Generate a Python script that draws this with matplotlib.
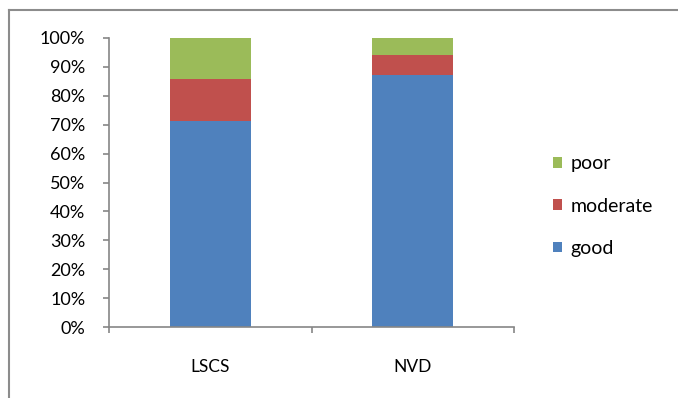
import matplotlib
matplotlib.use("Agg")
import matplotlib.pyplot as plt
from matplotlib.patches import Patch
from matplotlib.lines import Line2D
from matplotlib.ticker import PercentFormatter, FixedLocator

categories = ["LSCS", "NVD"]
good = [71.4, 87.2]
moderate = [14.3, 6.9]
poor = [14.3, 5.9]
series_names = ["good", "moderate", "poor"]
colors = ["#4F81BD", "#C0504D", "#9BBB59"]
yticks = [0, 10, 20, 30, 40, 50, 60, 70, 80, 90, 100]

plt.rcParams["font.family"] = ["Lato", "DejaVu Sans"]

W, H = 678, 398
fig = plt.figure(figsize=(W / 100, H / 100), dpi=100)
ax = fig.add_axes([109 / W, 1 - 327 / H, (514 - 109) / W, (327 - 38) / H])

x = list(range(len(categories)))
bottom = [0.0] * len(categories)
handles = []
for name, vals, col in zip(series_names, [good, moderate, poor], colors):
    ax.bar(x, vals, width=0.4, bottom=bottom, color=col, edgecolor="none",
           label=name)
    bottom = [b + v for b, v in zip(bottom, vals)]
    handles.append(Patch(facecolor=col, edgecolor="none", label=name))

ax.set_xlim(-0.5, 1.5)
ax.set_ylim(0, 100)
ax.set_yticks(yticks)
ax.yaxis.set_major_formatter(PercentFormatter(decimals=0))
ax.set_xticks(x)
ax.set_xticklabels(categories)
ax.xaxis.set_minor_locator(FixedLocator([-0.5, 0.5, 1.5]))

axis_col = "#868686"
for side in ["top", "right"]:
    ax.spines[side].set_visible(False)
for side in ["left", "bottom"]:
    ax.spines[side].set_color(axis_col)
    ax.spines[side].set_linewidth(1.2)

ax.tick_params(axis="y", which="major", direction="out", length=4,
               color=axis_col, width=1.2, pad=13, labelsize=13, labelcolor="#000000")
ax.tick_params(axis="x", which="major", length=0, pad=23, labelsize=12.5,
               labelcolor="#000000")
ax.tick_params(axis="x", which="minor", direction="out", length=4,
               color=axis_col, width=1.2)

leg = fig.legend(handles=handles[::-1], loc="center left",
                 bbox_to_anchor=(553 / W, 1 - 206 / H), frameon=False,
                 fontsize=14, handlelength=0.45, handleheight=0.45,
                 handletextpad=0.45, labelspacing=1.3, borderaxespad=0,
                 borderpad=0)

# outer chart frame (top and left edges)
fig.add_artist(Line2D([8.5 / W, 1.0], [1 - 9.5 / H, 1 - 9.5 / H],
                      transform=fig.transFigure, color="#8c8c8c", linewidth=1.5))
fig.add_artist(Line2D([8.5 / W, 8.5 / W], [1 - 9.5 / H, 0.0],
                      transform=fig.transFigure, color="#8c8c8c", linewidth=1.5))

fig.savefig("out.png", dpi=100, facecolor="white")
